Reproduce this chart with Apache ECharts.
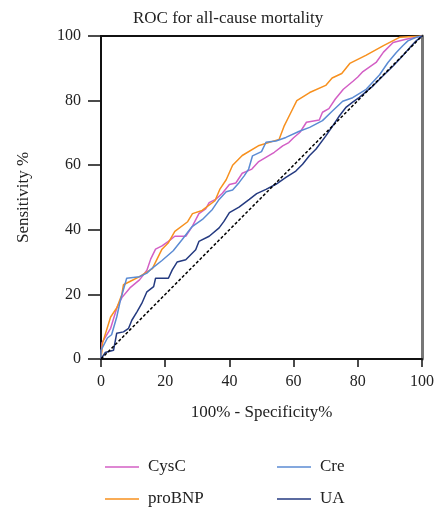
<!DOCTYPE html>
<html><head><meta charset="utf-8">
<script src="https://cdn.jsdelivr.net/npm/echarts@6/dist/echarts.min.js"></script>
<style>html,body{margin:0;padding:0;background:#fff}#c{width:438px;height:512px}</style>
</head><body><div id="c"></div>
<script>
const titleText = 'ROC for all-cause mortality';
const xName = '100% - Specificity%';
const yName = 'Sensitivity %';
const seriesNames = ['CysC', 'proBNP', 'Cre', 'UA'];
const colors = ['#d35fc5', '#f7901e', '#5b8bd3', '#243a80'];

const cysC = [[0,0],[0.3,5],[1.5,7],[3,9.5],[5,16],[6.5,19],[9,22],[12,24.5],[14.3,27.5],[15.5,31],[17,34],[19,35],[21,36.4],[23,38],[26.4,38],[28.4,41],[30.5,45],[32.6,46.5],[33.7,48.4],[35.7,49.4],[37.8,51.3],[40,54],[42,54.5],[44,57.5],[47,58.8],[49,61],[51.5,62.5],[54,64],[56.6,66],[58.5,67],[60,68.5],[62,70.2],[64,73.3],[68,74],[69,76.4],[71,77.5],[73,80.5],[75.5,83.5],[78.5,86],[80,87.3],[81.6,89],[85.7,91.8],[88,95],[91,98],[95,99],[100,100]];
const proBNP = [[0,0],[0.5,5],[3,13],[5,16],[6.5,20],[7,23],[9,24],[12,25.5],[16,28],[19,34],[21,36],[23,39.5],[27,42.5],[28.5,45],[31.5,46],[35.5,49],[37,52.5],[39,55.5],[41,60],[44,63],[49,66],[55.5,68],[57,72],[59,76],[61,80],[65,82.5],[70,84.7],[72,87],[75,88.4],[77.5,91.5],[82.5,94],[88,97],[93,99.6],[100,100]];
const cre = [[0,0],[0,2.7],[2,6.5],[3.3,7.5],[4.9,13],[6,18],[7,21.5],[8,25],[12,25.5],[14.3,26.6],[15.8,28],[19,30.5],[22.5,33.5],[25.3,37],[28.4,41],[31.6,43.2],[34.7,46.3],[36.8,49.4],[39,51.8],[41,52.3],[43,54.6],[44.6,56.7],[46,58.8],[47.2,62.9],[50,64.2],[51.4,67.1],[54.5,67.5],[57.6,68.6],[61.8,70.5],[65,71.7],[69,73.8],[72,76.7],[75.3,79.8],[78.4,80.9],[82.6,83.5],[86.8,88],[89.4,91.8],[92,94.9],[94,97],[95.6,98.5],[98.2,99.6],[100,100]];
const ua = [[0,0],[1.3,2],[3.9,2.7],[4.9,8],[7,8.4],[8.6,9.5],[9.6,12],[11.2,14.6],[12.7,17.2],[14.3,20.8],[16.4,22.4],[17,25],[21,25],[22.2,27.6],[23.7,30],[26.4,30.7],[29.5,33.8],[30.5,36.4],[33.7,38],[36.8,40.6],[38.3,42.6],[40,45.3],[43,47],[46.2,49.4],[48.5,51.2],[51.4,52.5],[54.5,54.1],[57.6,56.2],[60.7,58.2],[62.8,60.3],[64.9,62.9],[67,65],[70,69],[72.2,72.2],[74.3,75.3],[76.4,78],[78.4,79.5],[80.5,81],[83.7,83.7],[84.7,84.5],[87.8,87.6],[91,90.7],[94,93.9],[96.2,96.4],[98.2,98.5],[100,100]];
const refLine = [[0,0],[100,100]];
const seriesData = [cysC, proBNP, cre, ua];

const font = 'Liberation Serif';
const chart = echarts.init(document.getElementById('c'), null, {renderer:'canvas'});
const lineSeries = seriesNames.map((n,i)=>({
  name:n, type:'line', data:seriesData[i], showSymbol:false, symbol:'none',
  lineStyle:{color:colors[i], width:1.5}, itemStyle:{color:colors[i]}, z:2+i, animation:false
}));
lineSeries.push({name:'ref', type:'line', data:refLine, symbol:'none', z:10,
  lineStyle:{color:'#000', width:1.5, type:[3,2]}, animation:false});

const legendBase = {orient:'vertical', icon:'rect', itemWidth:34, itemHeight:1.5, itemGap:14, height:80,
  textStyle:{fontFamily:font, fontSize:17, lineHeight:18, color:'#222', padding:[0,0,0,4]}, selectedMode:false};

chart.setOption({
  animation:false,
  title:{text:titleText, left:128, top:5, textStyle:{fontFamily:font, fontSize:17, fontWeight:'normal', color:'#222'}},
  grid:{left:101, right:16, top:36, bottom:153},
  legend:[
    Object.assign({}, legendBase, {data:['CysC','proBNP'], left:100, top:453}),
    Object.assign({}, legendBase, {data:['Cre','UA'], left:272, top:453})
  ],
  xAxis:[{type:'value', min:0, max:100, interval:20, name:xName, nameLocation:'middle', nameGap:45,
    nameTextStyle:{fontFamily:font, fontSize:17, color:'#222'},
    axisLine:{onZero:false, lineStyle:{color:'#111', width:2}}, axisTick:{length:8, lineStyle:{color:'#111', width:1.5}},
    axisLabel:{fontFamily:font, fontSize:16, color:'#222', margin:15}, splitLine:{show:false}},
    {type:'value', position:'top', min:0, max:100, axisLine:{show:true, onZero:false, lineStyle:{color:'#111', width:2}},
    axisTick:{show:false}, axisLabel:{show:false}, splitLine:{show:false}}],
  yAxis:[{type:'value', min:0, max:100, interval:20, name:yName, nameLocation:'middle', nameGap:69,
    nameTextStyle:{fontFamily:font, fontSize:17, color:'#222'},
    axisLine:{show:true, onZero:false, lineStyle:{color:'#111', width:2}}, axisTick:{show:true, length:13, lineStyle:{color:'#111', width:1.5}},
    axisLabel:{fontFamily:font, fontSize:16, color:'#222', margin:20}, splitLine:{show:false}},
    {type:'value', position:'right', min:0, max:100, axisLine:{show:true, onZero:false, lineStyle:{color:'#777', width:3}},
    axisTick:{show:false}, axisLabel:{show:false}, splitLine:{show:false}}],
  series:lineSeries
});
</script></body></html>
